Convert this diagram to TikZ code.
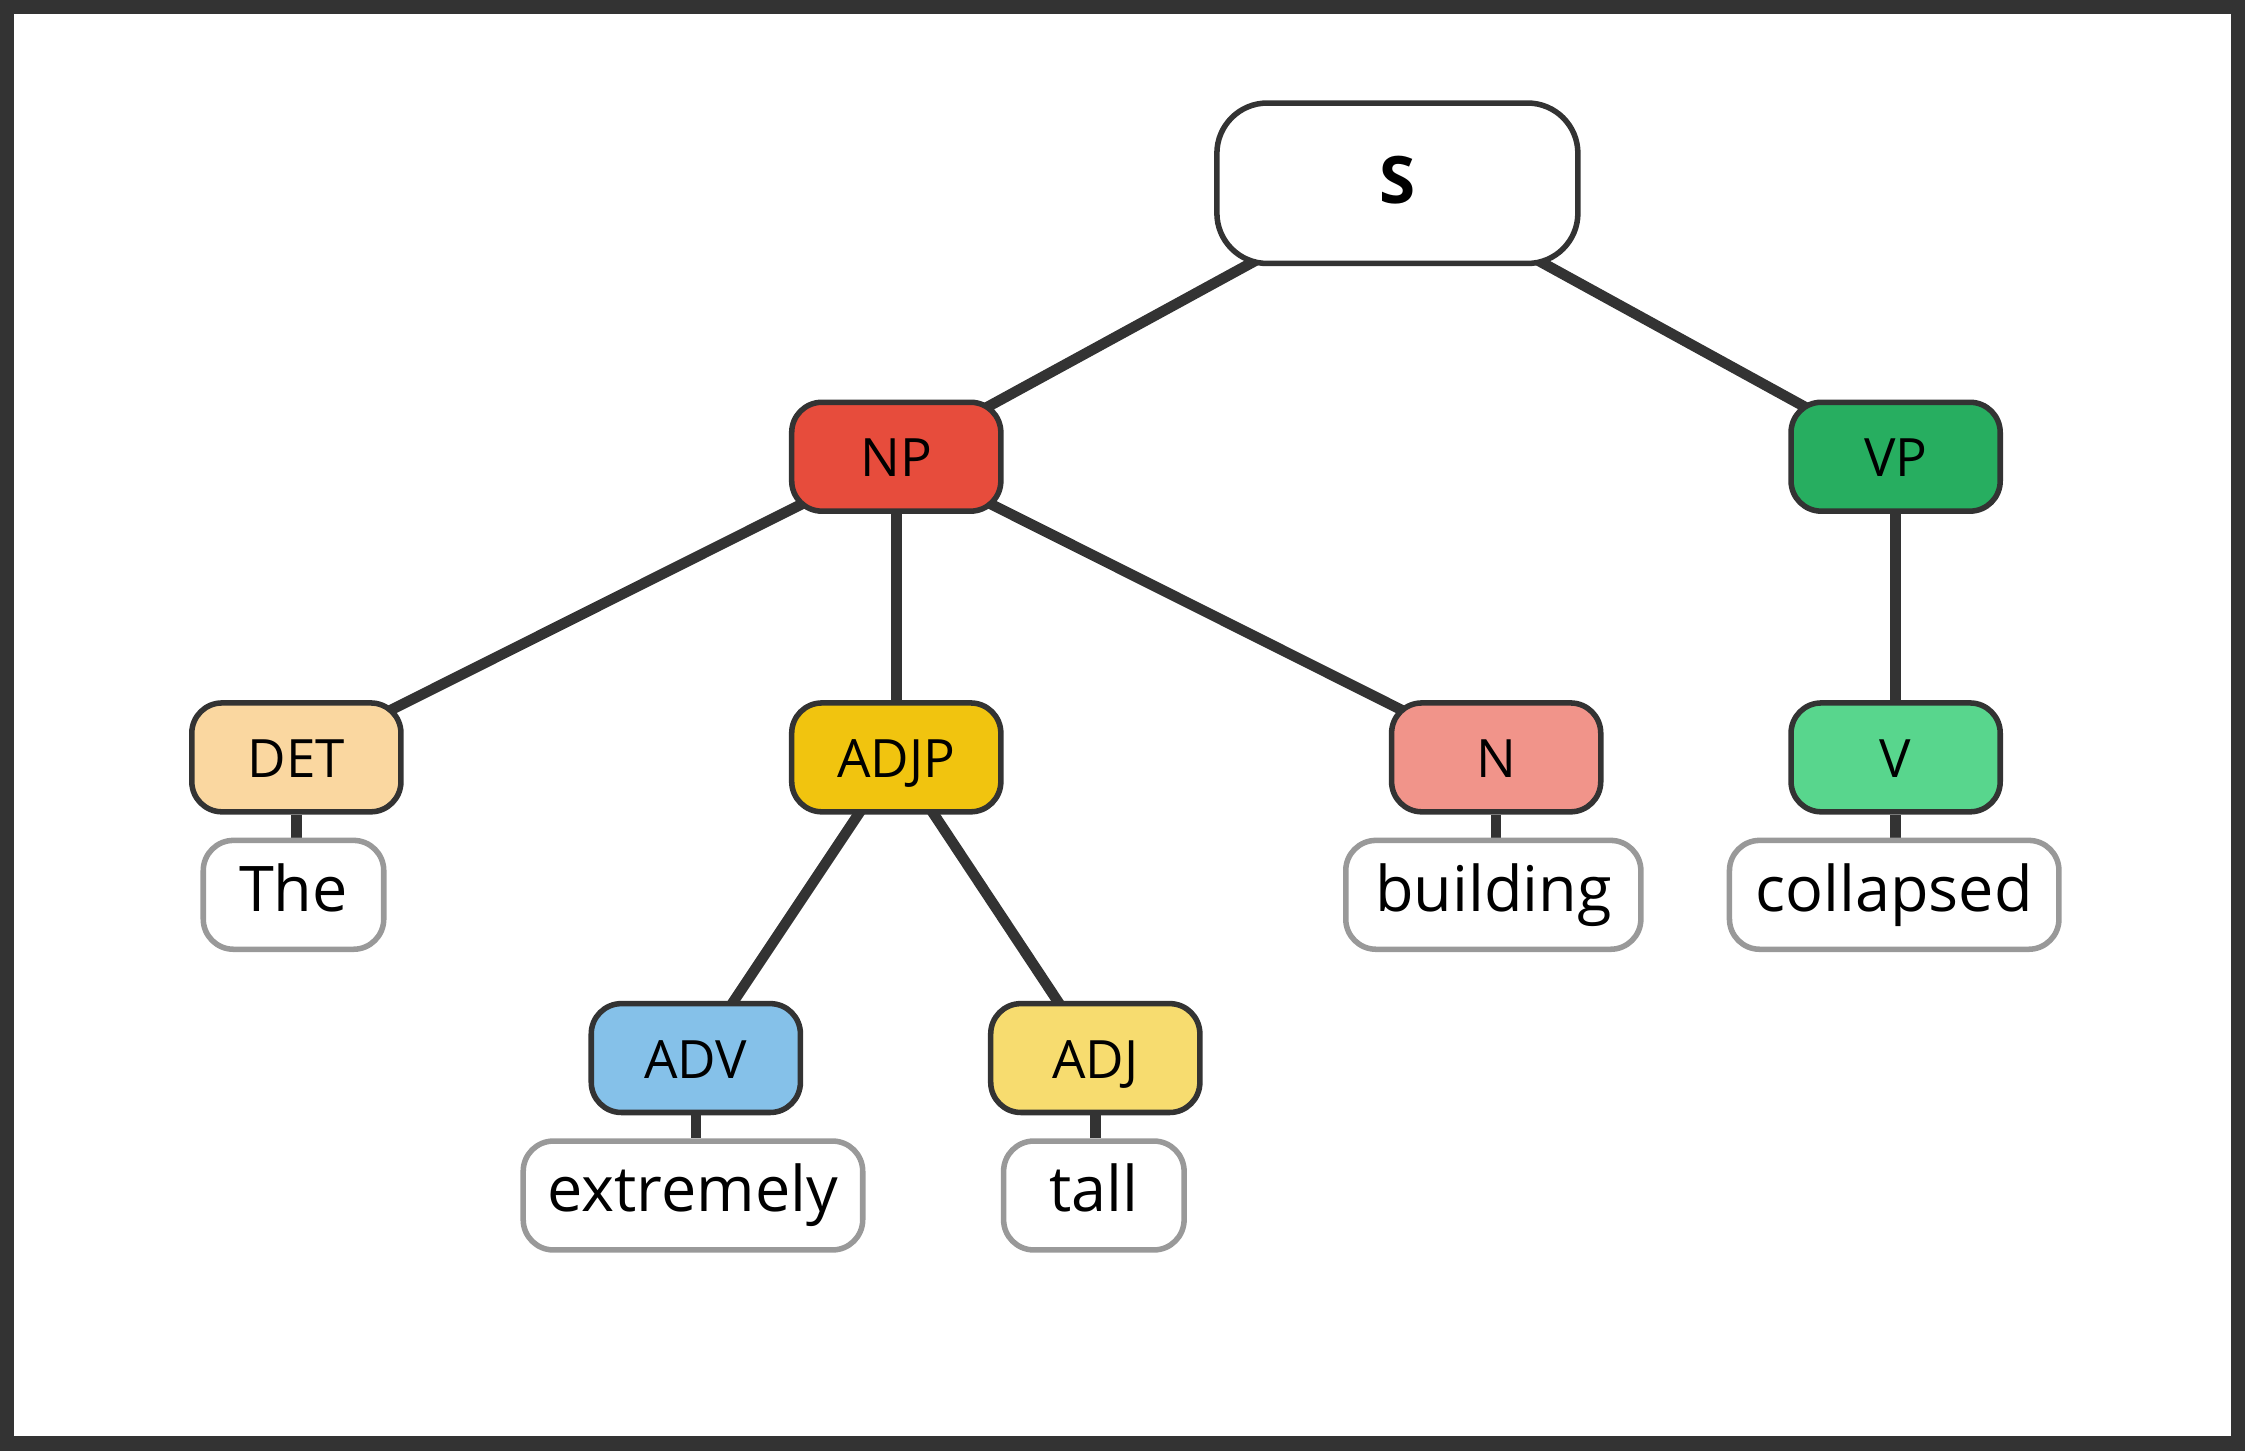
\documentclass[tikz,border=0pt]{standalone}
\usepackage{fontspec}
\setmainfont{Open Sans}
\usetikzlibrary{backgrounds}
\definecolor{dk}{HTML}{333333}
\definecolor{gr}{HTML}{999999}
\begin{document}
\begin{tikzpicture}[x=0.01cm,y=-0.01cm,
 cat/.style={draw=dk,line width=1.1pt,rounded corners=6pt,minimum width=1.46cm,minimum height=0.76cm,inner sep=0pt,text height=1.5ex,text depth=0ex,font=\fontsize{10.5}{12}\selectfont},
 word/.style={draw=gr,line width=1.1pt,rounded corners=6pt,fill=white,minimum height=0.76cm,inner sep=0pt,text height=1.6ex,text depth=0.4ex,font=\fontsize{12.5}{14}\selectfont},
 edge/.style={draw=dk,line width=2.1pt}]
\useasboundingbox (0,0) rectangle (1568,1013);
\draw[dk,line width=3pt] (4.5,4.5) rectangle (1563.5,1008.5);
\node[cat,minimum width=2.52cm,minimum height=1.12cm,rounded corners=10pt,fill=white,font=\fontsize{13}{15}\selectfont\bfseries] (S) at (976,128) {S};
\node[cat,fill={rgb,255:red,231;green,76;blue,60}] (NP) at (626,319) {NP};
\node[cat,fill={rgb,255:red,39;green,174;blue,96}] (VP) at (1324,319) {VP};
\node[cat,fill={rgb,255:red,250;green,215;blue,160}] (DET) at (207,529) {DET};
\node[cat,fill={rgb,255:red,241;green,196;blue,15}] (ADJP) at (626,529) {ADJP};
\node[cat,fill={rgb,255:red,241;green,148;blue,138}] (N) at (1045,529) {N};
\node[cat,fill={rgb,255:red,88;green,214;blue,141}] (V) at (1324,529) {V};
\node[cat,fill={rgb,255:red,133;green,193;blue,233}] (ADV) at (486,739) {ADV};
\node[cat,fill={rgb,255:red,247;green,220;blue,111}] (ADJ) at (765,739) {ADJ};
\node[word,minimum width=1.26cm] (w1) at (205,625) {The};
\node[word,minimum width=2.06cm] (w2) at (1043,625) {building};
\node[word,minimum width=2.30cm] (w3) at (1323,625) {collapsed};
\node[word,minimum width=2.37cm] (w4) at (484,835) {extremely};
\node[word,minimum width=1.26cm] (w5) at (764,835) {tall};
\begin{scope}[on background layer]
\draw[edge] (S.center) -- (NP.center);
\draw[edge] (S.center) -- (VP.center);
\draw[edge] (NP.center) -- (DET.center);
\draw[edge] (NP.center) -- (ADJP.center);
\draw[edge] (NP.center) -- (N.center);
\draw[edge] (VP.center) -- (V.center);
\draw[edge] (ADJP.center) -- (ADV.center);
\draw[edge] (ADJP.center) -- (ADJ.center);
\draw[edge] (DET.south) -- (DET.south |- w1.north);
\draw[edge] (N.south) -- (N.south |- w2.north);
\draw[edge] (V.south) -- (V.south |- w3.north);
\draw[edge] (ADV.south) -- (ADV.south |- w4.north);
\draw[edge] (ADJ.south) -- (ADJ.south |- w5.north);
\end{scope}
\end{tikzpicture}
\end{document}
